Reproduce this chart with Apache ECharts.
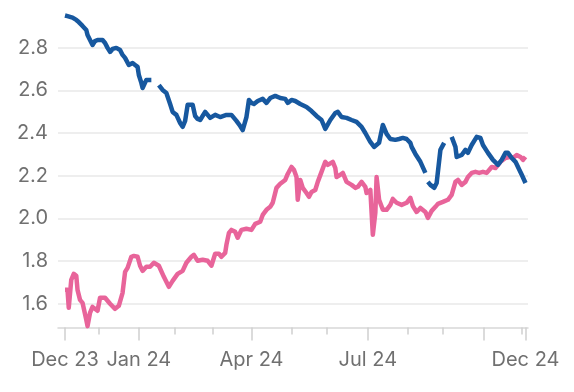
<!DOCTYPE html>
<html>
<head>
<meta charset="utf-8">
<script src="https://cdn.jsdelivr.net/npm/echarts@6/dist/echarts.min.js"></script>
<style>
html,body{margin:0;padding:0;background:#fff;}
#c{width:574px;height:392px;}
</style>
</head>
<body>
<div id="c"></div>
<script>
// x values are days since the first observation; null marks a gap in the series
const blueDays = [0,2,6,9,11,14,17,18,20,22,24,26,30,32,34,36,38,41,44,46,48,51,54,56,58,59,61,62,65,66,69,
  72,
  75,78,81,84,86,89,92,94,96,98,102,104,106,108,112,116,120,124,129,133,137,140,142,145,147,149,151,154,158,161,164,168,172,176,178,181,184,188,193,197,201,205,208,212,216,218,221,225,229,233,237,240,244,247,251,254,257,260,264,267,270,273,276,277,280,284,288,
  289,
  290,292,295,297,300,303,
  306,
  309,312,313,317,320,322,325,329,332,334,338,342,346,349,352,354,357,360,362,365,368];
const blueVals = [2.951,2.948,2.941,2.930,2.920,2.902,2.883,2.859,2.836,2.813,2.831,2.836,2.836,2.822,2.799,2.780,2.794,2.799,2.789,2.766,2.752,2.719,2.728,2.719,2.710,2.672,2.635,2.611,2.649,2.644,2.649,
  null,
  2.625,2.602,2.588,2.536,2.499,2.485,2.447,2.429,2.457,2.532,2.532,2.480,2.466,2.461,2.499,2.471,2.485,2.475,2.485,2.485,2.457,2.433,2.414,2.475,2.555,2.541,2.536,2.550,2.560,2.541,2.564,2.574,2.564,2.560,2.541,2.555,2.550,2.536,2.522,2.503,2.480,2.461,2.419,2.461,2.494,2.499,2.475,2.471,2.461,2.452,2.429,2.400,2.358,2.335,2.354,2.438,2.396,2.372,2.368,2.372,2.377,2.372,2.354,2.335,2.302,2.265,2.213,
  null,
  2.171,2.157,2.143,2.166,2.321,2.354,
  null,
  2.382,2.335,2.288,2.297,2.321,2.307,2.344,2.382,2.377,2.344,2.307,2.274,2.251,2.274,2.307,2.307,2.283,2.265,2.241,2.204,2.166];

const pinkDays = [0,2,3,5,7,9,10,12,14,17,18,20,22,26,28,32,36,40,43,46,48,50,53,55,58,60,62,65,68,71,75,79,83,86,90,94,97,101,103,106,110,114,117,120,123,125,128,129,131,133,136,138,141,145,149,152,156,158,161,164,166,169,172,176,178,181,183,185,186,188,190,193,195,197,200,202,205,208,210,214,216,217,220,222,225,229,232,234,237,240,241,244,246,248,249,251,254,257,260,262,265,269,273,276,278,281,284,288,290,293,296,298,302,306,309,312,314,317,320,322,325,328,331,334,337,341,344,348,352,356,358,361,364,366,368];
const pinkVals = [1.665,1.665,1.581,1.712,1.740,1.731,1.665,1.618,1.604,1.525,1.495,1.557,1.585,1.567,1.628,1.628,1.600,1.576,1.590,1.651,1.749,1.768,1.820,1.824,1.820,1.778,1.754,1.773,1.773,1.792,1.778,1.726,1.679,1.707,1.740,1.754,1.792,1.820,1.829,1.801,1.806,1.801,1.778,1.834,1.834,1.820,1.838,1.876,1.932,1.946,1.937,1.909,1.946,1.951,1.946,1.974,1.984,2.016,2.040,2.054,2.073,2.143,2.162,2.180,2.208,2.241,2.227,2.194,2.087,2.180,2.143,2.119,2.101,2.124,2.133,2.171,2.218,2.265,2.251,2.265,2.236,2.194,2.204,2.213,2.171,2.157,2.143,2.148,2.171,2.148,2.119,2.133,1.923,2.026,2.194,2.087,2.040,2.040,2.063,2.091,2.073,2.063,2.073,2.096,2.058,2.030,2.049,2.030,2.002,2.035,2.054,2.068,2.077,2.087,2.110,2.171,2.180,2.157,2.171,2.194,2.213,2.218,2.213,2.218,2.213,2.241,2.236,2.265,2.283,2.288,2.283,2.297,2.288,2.274,2.288];

const yTicks = [1.6, 1.8, 2.0, 2.2, 2.4, 2.6, 2.8];
const labelDays = [0, 59, 149, 242, 368];
const labelTexts = ['Dec 23', 'Jan 24', 'Apr 24', 'Jul 24', 'Dec 24'];
const majorTickDays = [0, 59, 149, 242, 335, 368];
const minorTickDays = [27, 88, 118, 181, 209, 274, 302, 365];

function pairs(days, vals) {
  return days.map((d, i) => [d, vals[i] === null ? '-' : vals[i]]);
}

const FONT = 'Inter';
const TXT = '#707070';
const chart = echarts.init(document.getElementById('c'), null, {renderer: 'canvas'});
chart.setOption({
  animation: false,
  backgroundColor: '#ffffff',
  grid: {left: 58, right: 46, top: 5, bottom: 64.5},
  xAxis: [
    {
      type: 'value', min: -5.6, max: 370,
      axisLine: {show: true, lineStyle: {color: '#d8d8d8', width: 1.5}},
      axisTick: {show: true, customValues: majorTickDays, length: 13, lineStyle: {color: '#d0d0d0', width: 1.5}},
      axisLabel: {
        show: true, customValues: labelDays, margin: 22,
        color: TXT, fontSize: 20, fontFamily: FONT,
        formatter: function (v) {
          const i = labelDays.indexOf(Math.round(v));
          return i >= 0 ? labelTexts[i] : '';
        }
      },
      splitLine: {show: false}
    },
    {
      type: 'value', min: -5.6, max: 370, position: 'bottom',
      axisLine: {show: false},
      axisTick: {show: true, customValues: minorTickDays, length: 7, lineStyle: {color: '#d0d0d0', width: 1.5}},
      axisLabel: {show: false},
      splitLine: {show: false}
    }
  ],
  yAxis: {
    type: 'value', min: 1.4885, max: 3.0,
    axisLine: {show: false},
    axisTick: {show: false, customValues: yTicks},
    axisLabel: {
      customValues: yTicks, margin: 10, color: TXT, fontSize: 20, fontFamily: FONT,
      formatter: v => v.toFixed(1)
    },
    splitLine: {show: true, lineStyle: {color: '#e8e8e8', width: 1.5}}
  },
  series: [
    {
      type: 'line', xAxisIndex: 0, data: pairs(pinkDays, pinkVals),
      showSymbol: false, connectNulls: false,
      lineStyle: {color: '#e8649a', width: 4.5, join: 'round'}
    },
    {
      type: 'line', xAxisIndex: 0, data: pairs(blueDays, blueVals),
      showSymbol: false, connectNulls: false,
      lineStyle: {color: '#17589f', width: 4.5, join: 'round'}
    }
  ]
});
</script>
</body>
</html>
